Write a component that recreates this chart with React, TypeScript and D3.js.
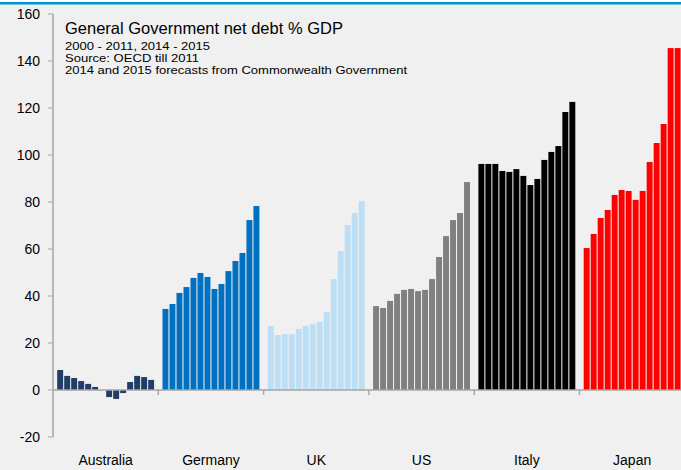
import React from "react";
import * as d3 from "d3";

const countries = ["Australia", "Germany", "UK", "US", "Italy", "Japan"];
const years = ["2000","2001","2002","2003","2004","2005","2006","2007","2008","2009","2010","2011","2014","2015"];
const colors = ["#1F3D66", "#0070C0", "#BDDFF5", "#808080", "#000000", "#FF0000"];

const australia = [8.5, 6.0, 5.1, 3.8, 2.6, 1.3, 0, -3.0, -3.8, -1.3, 3.4, 6.0, 5.5, 4.3];
const germany = [34.5, 36.6, 41.3, 43.8, 47.7, 49.8, 48.1, 43.0, 45.1, 50.6, 54.9, 58.3, 72.3, 78.3];
const uk = [27.2, 23.4, 23.8, 23.8, 26.0, 27.2, 28.1, 29.0, 33.2, 47.2, 59.1, 70.2, 75.3, 80.4];
const us = [35.7, 34.9, 37.9, 40.9, 42.6, 43.0, 42.1, 42.6, 47.2, 56.6, 65.5, 72.3, 75.3, 88.5];
const italy = [96.2, 96.2, 96.2, 93.2, 92.8, 94.0, 91.1, 87.2, 89.8, 97.9, 101.3, 103.8, 118.3, 122.6];
const japan = [60.4, 66.4, 73.2, 76.6, 83.0, 85.1, 84.7, 80.9, 84.7, 97.0, 105.1, 113.2, 145.5, 145.5];
const seriesValues = [australia, germany, uk, us, italy, japan];

const yTicks = [-20, 0, 20, 40, 60, 80, 100, 120, 140, 160];
const titleLines = [
  "2000 - 2011, 2014 - 2015",
  "Source: OECD till 2011",
  "2014 and 2015 forecasts from Commonwealth Government",
];
const titleLineWidths = [145, 134, 342];

export default function App() {
  const W = 681, H = 470;
  const left = 53, right = 53 + 6 * 105.3;
  const y = d3.scaleLinear().domain([-20, 160]).range([437, 14]);
  const xCat = d3.scaleBand<string>().domain(countries).range([left, right]).padding(0);
  const xYear = d3.scaleBand<string>().domain(years).range([0, xCat.bandwidth()]).paddingInner(0.15).paddingOuter(0.6);
  const axisColor = "#A6A6A6";
  const font = "'Liberation Sans', Arial, sans-serif";

  return (
    <svg width={W} height={H} style={{ position: "absolute", left: 0, top: 0, display: "block" }} fontFamily={font}>
      <rect x={0} y={0} width={W} height={H} fill="#F0F0F0" />
      <rect x={0} y={0} width={W} height={2} fill="#FFFFFF" />
      <rect x={0} y={2} width={W} height={2.5} fill="#0096D6" />
      <defs>
        <clipPath id="plotclip">
          <rect x={0} y={0} width={W} height={H} />
        </clipPath>
      </defs>
      <g clipPath="url(#plotclip)">
        {countries.map((c, ci) =>
          seriesValues[ci].map((v, yi) => {
            const x0 = (xCat(c) as number) + (xYear(years[yi]) as number);
            const yTop = y(Math.max(0, v));
            const yBot = y(Math.min(0, v));
            return (
              <rect key={c + yi} x={x0} y={yTop} width={xYear.bandwidth()} height={Math.max(0, yBot - yTop)} fill={colors[ci]} />
            );
          })
        )}
      </g>
      {/* y axis */}
      <line x1={left} x2={left} y1={y(160)} y2={y(-20)} stroke={axisColor} strokeWidth={1.5} />
      {yTicks.map((t) => (
        <g key={t}>
          <line x1={left - 5} x2={left} y1={y(t)} y2={y(t)} stroke={axisColor} strokeWidth={1} />
          <text x={40} y={y(t)} dy="0.35em" textAnchor="end" fontSize={14} fill="#000">{t}</text>
        </g>
      ))}
      {/* x axis */}
      <line x1={left} x2={W} y1={y(0)} y2={y(0)} stroke={axisColor} strokeWidth={1.5} />
      {countries.map((c, ci) => (
        <g key={c}>
          {ci > 0 && (
            <line x1={xCat(c) as number} x2={xCat(c) as number} y1={y(0)} y2={y(0) + 5} stroke={axisColor} strokeWidth={1.5} />
          )}
          <text x={(xCat(c) as number) + xCat.bandwidth() / 2} y={465} textAnchor="middle" fontSize={14} fill="#000">{c}</text>
        </g>
      ))}
      {/* titles */}
      <text x={65} y={34} fontSize={16.5} fill="#000">General Government net debt % GDP</text>
      {titleLines.map((l, i) => (
        <text key={i} x={65} y={49.5 + i * 12} fontSize={11.5} fill="#000" textLength={titleLineWidths[i]} lengthAdjust="spacingAndGlyphs">{l}</text>
      ))}
    </svg>
  );
}
